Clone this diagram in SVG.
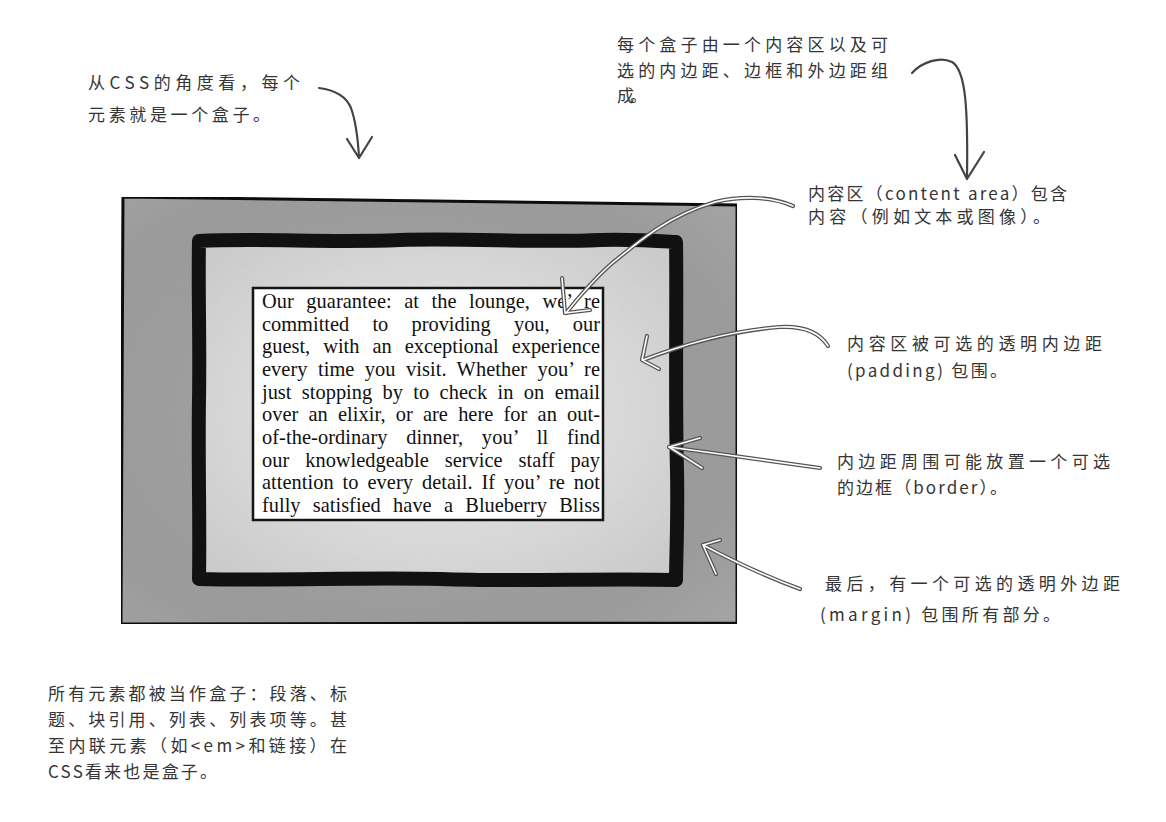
<svg xmlns="http://www.w3.org/2000/svg" width="1166" height="822" viewBox="0 0 1166 822">
<defs>
<radialGradient id="gMargin" cx="0.45" cy="0.5" r="0.75">
<stop offset="0" stop-color="#a6a6a6"/>
<stop offset="0.75" stop-color="#9e9e9e"/>
<stop offset="1" stop-color="#a9a9a9"/>
</radialGradient>
<radialGradient id="gPad" cx="0.5" cy="0.5" r="0.65">
<stop offset="0" stop-color="#e8e8e8"/>
<stop offset="0.6" stop-color="#dddddd"/>
<stop offset="1" stop-color="#cfcfcf"/>
</radialGradient>
<filter id="grain" x="0" y="0" width="100%" height="100%">
<feTurbulence type="fractalNoise" baseFrequency="0.9" numOctaves="2" seed="3" result="n"/>
<feColorMatrix in="n" type="matrix" values="0 0 0 0 0  0 0 0 0 0  0 0 0 0 0  0 0 0 0.09 0" result="a"/>
<feComposite in="a" in2="SourceGraphic" operator="in" result="b"/>
<feMerge><feMergeNode in="SourceGraphic"/><feMergeNode in="b"/></feMerge>
</filter>
</defs>
<style>
.hand{font-family:"Noto Sans CJK SC","Noto Sans",sans-serif;font-size:17px;fill:#353535;}
.body{font-family:"Liberation Serif","Times New Roman",serif;font-size:20.4px;fill:#111;}
.pen{fill:none;stroke:#444;stroke-width:2.2;stroke-linecap:round;stroke-linejoin:round;}
.penOut{fill:none;stroke:#555;stroke-width:4.2;stroke-linecap:round;stroke-linejoin:round;}
.penIn{fill:none;stroke:#fff;stroke-width:1.6;stroke-linecap:round;stroke-linejoin:round;}
</style>
<rect width="1166" height="822" fill="#ffffff"/>

<g id="margin-box">
<path d="M123,197 L737,205 L737,623 L121,624 Z" fill="url(#gMargin)" stroke="#151515" stroke-width="3" stroke-linejoin="round" filter="url(#grain)"/>
</g>

<g id="border-frame">
<rect x="199" y="241" width="477" height="339" fill="url(#gPad)" filter="url(#grain)"/>
<path d="M199,241 C260,238 330,243 400,240 C470,238 540,243 600,240 C630,239 660,241 676,242 C677,300 675,400 677,470 C678,520 676,560 676,580 C600,578 520,582 440,579 C360,577 280,581 199,579 C200,520 198,460 199,400 C200,340 198,290 199,241 Z" fill="none" stroke="#111" stroke-width="14" stroke-linejoin="round"/>
</g>

<g id="content">
<rect x="253" y="288" width="350" height="232" fill="#ffffff" stroke="#151515" stroke-width="2.5"/>
<text class="body" x="262" y="308" word-spacing="7.3" textLength="338" lengthAdjust="spacing">Our guarantee: at the lounge, we’ re</text>
<text class="body" x="262" y="331" word-spacing="18.1" textLength="338" lengthAdjust="spacing">committed to providing you, our</text>
<text class="body" x="262" y="353" word-spacing="7.9" textLength="338" lengthAdjust="spacing">guest, with an exceptional experience</text>
<text class="body" x="262" y="376" word-spacing="5.25" textLength="338" lengthAdjust="spacing">every time you visit. Whether you’ re</text>
<text class="body" x="262" y="399" word-spacing="5.3" textLength="338" lengthAdjust="spacing">just stopping by to check in on email</text>
<text class="body" x="262" y="421" word-spacing="5.1" textLength="338" lengthAdjust="spacing">over an elixir, or are here for an out-</text>
<text class="body" x="262" y="444" word-spacing="13.6" textLength="338" lengthAdjust="spacing">of-the-ordinary dinner, you’ ll find</text>
<text class="body" x="262" y="467" word-spacing="10.9" textLength="338" lengthAdjust="spacing">our knowledgeable service staff pay</text>
<text class="body" x="262" y="489" word-spacing="3.8" textLength="338" lengthAdjust="spacing">attention to every detail. If you’ re not</text>
<text class="body" x="262" y="512" word-spacing="7.2" textLength="338" lengthAdjust="spacing">fully satisfied have a Blueberry Bliss</text>
</g>

<g id="connectors">
<path class="pen" d="M319,88 C335,90 346,96 351,108 C356,122 358,140 359,157"/>
<path class="pen" d="M347,139 L359,158 L372,137"/>
<path class="pen" d="M912,73 C922,62 940,56 952,62 C966,70 968,110 967,178"/>
<path class="pen" d="M955,155 L967,179 L984,152"/>
<path class="penOut" d="M793,206 C770,196 740,196 715,202 C670,215 640,240 610,265 C590,283 578,298 566,313"/>
<path class="penOut" d="M562,278 L565,313 L590,310"/>
<path class="penIn" d="M793,206 C770,196 740,196 715,202 C670,215 640,240 610,265 C590,283 578,298 566,313"/>
<path class="penIn" d="M562,278 L565,313 L590,310"/>
<path class="penOut" d="M828,346 C818,330 800,326 780,327 C740,330 690,342 643,360"/>
<path class="penOut" d="M647,336 L642,360 L659,369"/>
<path class="penIn" d="M828,346 C818,330 800,326 780,327 C740,330 690,342 643,360"/>
<path class="penIn" d="M647,336 L642,360 L659,369"/>
<path class="penOut" d="M820,468 C780,462 720,454 669,447"/>
<path class="penOut" d="M700,438 L669,447 L702,468"/>
<path class="penIn" d="M820,468 C780,462 720,454 669,447"/>
<path class="penIn" d="M700,438 L669,447 L702,468"/>
<path class="penOut" d="M800,589 C770,578 735,562 703,545"/>
<path class="penOut" d="M720,540 L703,545 L716,574"/>
<path class="penIn" d="M800,589 C770,578 735,562 703,545"/>
<path class="penIn" d="M720,540 L703,545 L716,574"/>
</g>

<g id="note-box">
<text class="hand" x="88" y="89" textLength="212" lengthAdjust="spacing">从CSS的角度看，每个</text>
<text class="hand" x="88" y="121" textLength="182" lengthAdjust="spacing">元素就是一个盒子。</text>
</g>

<g id="note-parts">
<text class="hand" x="617" y="51" textLength="271" lengthAdjust="spacing">每个盒子由一个内容区以及可</text>
<text class="hand" x="617" y="77" textLength="271" lengthAdjust="spacing">选的内边距、边框和外边距组</text>
<text class="hand" x="617" y="102" textLength="30" lengthAdjust="spacing">成。</text>
</g>

<g id="note-content">
<text class="hand" x="808" y="200" textLength="259" lengthAdjust="spacing">内容区（content area）包含</text>
<text class="hand" x="808" y="223" textLength="242" lengthAdjust="spacing">内容（例如文本或图像）。</text>
</g>

<g id="note-padding">
<text class="hand" x="847" y="350" textLength="255" lengthAdjust="spacing">内容区被可选的透明内边距</text>
<text class="hand" x="847" y="377" textLength="160" lengthAdjust="spacing">(padding) 包围。</text>
</g>

<g id="note-border">
<text class="hand" x="837" y="468" textLength="273" lengthAdjust="spacing">内边距周围可能放置一个可选</text>
<text class="hand" x="837" y="494" textLength="170" lengthAdjust="spacing">的边框（border）。</text>
</g>

<g id="note-margin">
<text class="hand" x="825" y="590" textLength="295" lengthAdjust="spacing">最后，有一个可选的透明外边距</text>
<text class="hand" x="820" y="621" textLength="240" lengthAdjust="spacing">(margin) 包围所有部分。</text>
</g>

<g id="note-all">
<text class="hand" x="48" y="700" textLength="299" lengthAdjust="spacing">所有元素都被当作盒子：段落、标</text>
<text class="hand" x="48" y="726" textLength="299" lengthAdjust="spacing">题、块引用、列表、列表项等。甚</text>
<text class="hand" x="48" y="752" textLength="299" lengthAdjust="spacing">至内联元素（如&lt;em&gt;和链接）在</text>
<text class="hand" x="48" y="778" textLength="169" lengthAdjust="spacing">CSS看来也是盒子。</text>
</g>
</svg>
